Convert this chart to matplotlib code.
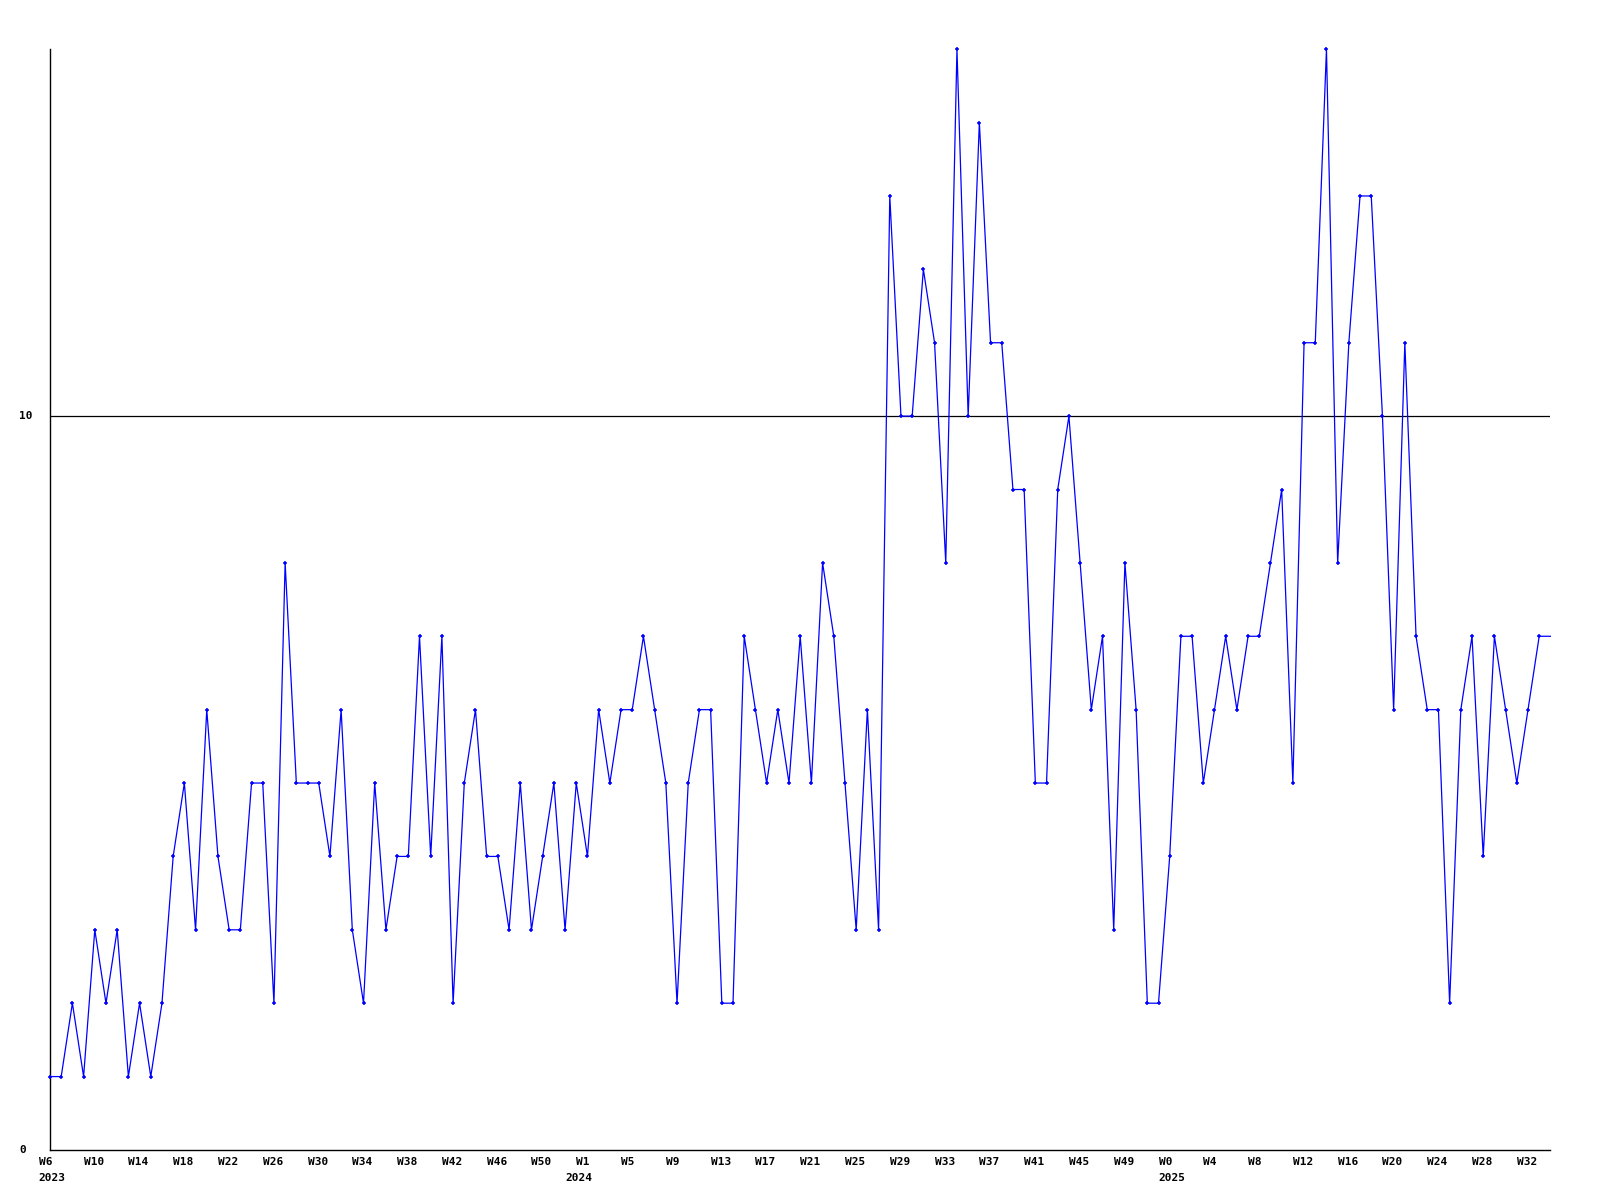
import matplotlib
matplotlib.use("Agg")
import matplotlib.pyplot as plt

# weekly counts, starting 2023 W6
values = [1, 1, 2, 1, 3, 2, 3, 1, 2, 1,
          2, 4, 5, 3, 6, 4, 3, 3, 5, 5,
          2, 8, 5, 5, 5, 4, 6, 3, 2, 5,
          3, 4, 4, 7, 4, 7, 2, 5, 6, 4,
          4, 3, 5, 3, 4, 5, 3, 5, 4, 6,
          5, 6, 6, 7, 6, 5, 2, 5, 6, 6,
          2, 2, 7, 6, 5, 6, 5, 7, 5, 8,
          7, 5, 3, 6, 3, 13, 10, 10, 12, 11,
          8, 15, 10, 14, 11, 11, 9, 9, 5, 5,
          9, 10, 8, 6, 7, 3, 8, 6, 2, 2,
          4, 7, 7, 5, 6, 7, 6, 7, 7, 8,
          9, 5, 11, 11, 15, 8, 11, 13, 13, 10,
          6, 11, 7, 6, 6, 2, 6, 7, 4, 7,
          6, 5, 6, 7, 7]

week_labels = ["W6", "W10", "W14", "W18", "W22", "W26", "W30", "W34", "W38",
               "W42", "W46", "W50",
               "W1", "W5", "W9", "W13", "W17", "W21", "W25", "W29", "W33",
               "W37", "W41", "W45", "W49",
               "W0", "W4", "W8", "W12", "W16", "W20", "W24", "W28", "W32"]
year_pos = [0, 47, 100]
year_labels = ["2023", "2024", "2025"]
ref_value = 10

x = list(range(len(values)))

fig = plt.figure(figsize=(16, 12), dpi=100)
ax = fig.add_axes([0.03125, 0.0417, 0.969 - 0.03125, 0.959 - 0.0417])

ax.axhline(ref_value, color="black", lw=0.9, zorder=1)
# the last point sits on the right edge and its marker is cut off
ax.plot(x, values, color="#0000ff", lw=0.9, marker="+", ms=3.5, mew=1.1,
        markevery=list(range(len(values) - 1)), clip_on=False, zorder=3)

ax.set_xlim(0, len(values) - 1)
ax.set_ylim(0, 15)
for s in ("top", "right"):
    ax.spines[s].set_visible(False)
for s in ("left", "bottom"):
    ax.spines[s].set_linewidth(1.0)

ax.set_xticks([])
ax.set_yticks([])

font = dict(fontfamily="DejaVu Sans Mono", fontweight="bold", fontsize=8)
for val in (0, ref_value):
    ax.annotate(str(val), xy=(0, val), xycoords=("axes fraction", "data"),
                xytext=(-31, 0), textcoords="offset pixels",
                ha="left", va="center", **font)

for i, lab in enumerate(week_labels):
    ax.annotate(lab, xy=(i * 4 - 1, 0), xycoords=("data", "axes fraction"),
                xytext=(0, -12), textcoords="offset pixels",
                ha="left", va="center", **font)
for pos, lab in zip(year_pos, year_labels):
    ax.annotate(lab, xy=(pos - 1, 0), xycoords=("data", "axes fraction"),
                xytext=(0, -28), textcoords="offset pixels",
                ha="left", va="center", **font)

fig.savefig("out.png", dpi=100)
